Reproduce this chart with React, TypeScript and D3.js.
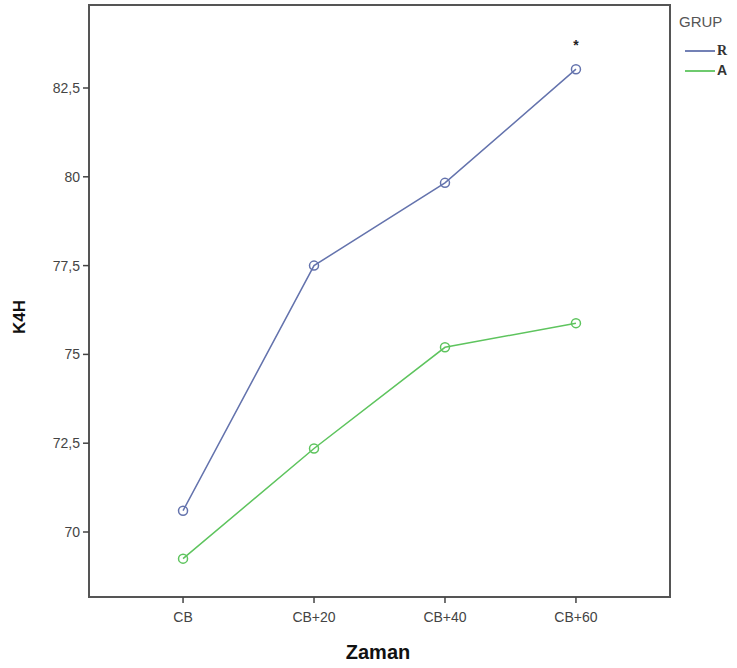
import React from "react";
import * as d3 from "d3";

const categories = ["CB", "CB+20", "CB+40", "CB+60"];
const seriesR = [70.6, 77.5, 79.83, 83.03];
const seriesA = [69.25, 72.35, 75.2, 75.88];
const yTicks = [70, 72.5, 75, 77.5, 80, 82.5];
const seriesNames = ["R", "A"];

export default function App() {
  const W = 737, H = 668;
  const left = 89, right = 670, top = 5, bottom = 597;
  const x = d3.scalePoint<string>().domain(categories).range([left, right]).padding(0.718);
  const y = d3.scaleLinear().domain([70, 82.5]).range([532, 88]);
  const line = d3.line<number>().x((_, i) => x(categories[i])!).y((d) => y(d));
  const fmt = (v: number) => d3.format("~g")(v).replace(".", ",");
  const colors = ["#6473ad", "#5ec45e"];
  const data = [seriesR, seriesA];
  return (
    <svg width={W} height={H} style={{ position: "absolute", left: 0, top: 0, background: "#fff" }} fontFamily="Arial, 'Liberation Sans', sans-serif">
      <rect x={left} y={top} width={right - left} height={bottom - top} fill="none" stroke="#555" strokeWidth={2} />
      {yTicks.map((t) => (
        <g key={t}>
          <line x1={left - 6} x2={left} y1={y(t)} y2={y(t)} stroke="#444" strokeWidth={1.5} />
          <text x={left - 9} y={y(t)} dy="0.35em" textAnchor="end" fontSize={14} fill="#444">{fmt(t)}</text>
        </g>
      ))}
      {categories.map((c) => (
        <g key={c}>
          <line x1={x(c)} x2={x(c)} y1={bottom} y2={bottom + 6} stroke="#444" strokeWidth={1.5} />
          <text x={x(c)} y={bottom + 25} textAnchor="middle" fontSize={14} fill="#444">{c}</text>
        </g>
      ))}
      {data.map((s, k) => (
        <g key={k}>
          <path d={line(s)!} fill="none" stroke={colors[k]} strokeWidth={1.5} />
          {s.map((v, i) => (
            <circle key={i} cx={x(categories[i])} cy={y(v)} r={4.5} fill="none" stroke={colors[k]} strokeWidth={1.5} />
          ))}
        </g>
      ))}
      <text x={x("CB+60")} y={y(seriesR[3]) - 19} textAnchor="middle" fontSize={14} fontWeight="bold" fill="#222">*</text>
      <text x={378} y={659} textAnchor="middle" fontSize={20} fontWeight="bold" fill="#111">Zaman</text>
      <text transform="translate(25,317) rotate(-90)" textAnchor="middle" fontSize={17} fontWeight="bold" fill="#111">K4H</text>
      <text x={679} y={27} fontSize={15} fill="#555">GRUP</text>
      {seriesNames.map((n, k) => (
        <g key={n}>
          <line x1={685} x2={715} y1={51 + k * 20} y2={51 + k * 20} stroke={colors[k]} strokeWidth={1.8} />
          <text x={717} y={51 + k * 20} dy="0.3em" fontSize={14} fontWeight="bold" fill="#333" fontFamily={k === 0 ? "'Liberation Serif', serif" : "Arial, sans-serif"}>{n}</text>
        </g>
      ))}
    </svg>
  );
}
